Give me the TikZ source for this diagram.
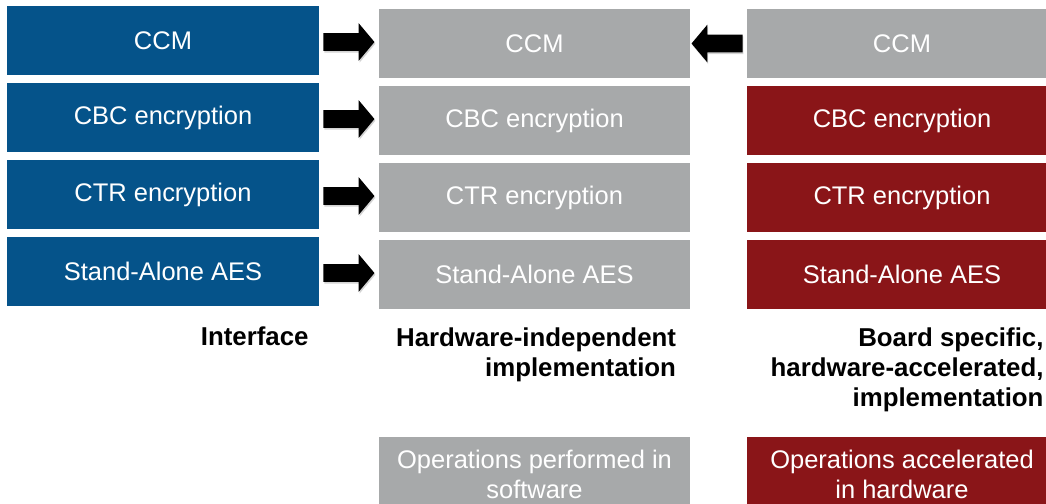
\documentclass[tikz,border=0pt]{standalone}
\usepackage{fontspec}
\setmainfont{Liberation Sans}
\usepackage{xcolor}
\usepackage{tikz}
\usetikzlibrary{shapes.geometric, shapes.arrows, arrows}
\usetikzlibrary{calc, shadows}
\usetikzlibrary{positioning}
\definecolor{ifblue}{RGB}{5,83,138}
\definecolor{swgray}{RGB}{167,169,170}
\definecolor{hwred}{RGB}{138,21,24}
\tikzstyle{block} = [rectangle, minimum width=6.22cm, minimum height=1.37cm, text=white, font=\fontsize{14.5}{17}\selectfont, align=center, inner sep=0pt]
\tikzstyle{iface} = [block, fill=ifblue]
\tikzstyle{swimpl} = [block, fill=swgray]
\tikzstyle{hwimpl} = [block, fill=hwred]
\tikzstyle{blockarrow} = [single arrow, fill=black, minimum height=1.02cm, inner sep=0.17cm, single arrow head extend=0.2cm, single arrow tip angle=100, single arrow head indent=0pt, drop shadow={opacity=0.35, shadow xshift=0.5pt, shadow yshift=-1pt}]
\tikzstyle{collabel} = [font=\fontsize{14.7}{17.1}\selectfont\bfseries, align=right, inner sep=0pt]

\begin{document}
\begin{tikzpicture}[node distance=1.54cm, auto]
        \useasboundingbox (0,0) rectangle (20.92,-10.06);

        % Interface
        \node (ifccm) [iface] at (3.26,-0.81) {CCM};
        \node (ifcbc) [iface, below of=ifccm] {CBC encryption};
        \node (ifctr) [iface, below of=ifcbc] {CTR encryption};
        \node (ifaes) [iface, below of=ifctr] {Stand-Alone AES};

        % Hardware-independent implementation
        \node (swccm) [swimpl, right of=ifccm, xshift=5.89cm, yshift=-0.06cm] {CCM};
        \node (swcbc) [swimpl, below of=swccm] {CBC encryption};
        \node (swctr) [swimpl, below of=swcbc] {CTR encryption};
        \node (swaes) [swimpl, below of=swctr] {Stand-Alone AES};

        % Board specific implementation
        \node (hwccm) [swimpl, right of=swccm, xshift=5.81cm] {CCM};
        \node (hwcbc) [hwimpl, below of=hwccm] {CBC encryption};
        \node (hwctr) [hwimpl, below of=hwcbc] {CTR encryption};
        \node (hwaes) [hwimpl, below of=hwctr] {Stand-Alone AES};

        % Arrows
        \node (arccm) [blockarrow, xshift=-0.07cm] at ($(ifccm.east)!0.5!(swccm.west)$) {};
        \node (arcbc) [blockarrow, xshift=-0.07cm] at ($(ifcbc.east)!0.5!(swcbc.west)$) {};
        \node (arctr) [blockarrow, xshift=-0.07cm] at ($(ifctr.east)!0.5!(swctr.west)$) {};
        \node (araes) [blockarrow, xshift=-0.07cm] at ($(ifaes.east)!0.5!(swaes.west)$) {};
        \node (arback) [blockarrow, shape border rotate=180, xshift=0.05cm] at ($(swccm.east)!0.5!(hwccm.west)$) {};

        % Column labels
        \node (lbif) [collabel, below left=0.4cm and 0.2cm of ifaes.south east] {Interface};
        \node (lbsw) [collabel, below left=0.36cm and 0.28cm of swaes.south east] {Hardware-independent\\implementation};
        \node (lbhw) [collabel, below left=0.36cm and 0.28cm of hwaes.south east] {Board specific,\\hardware-accelerated,\\implementation};

        % Legend
        \node (lgsw) [swimpl, minimum height=1.48cm, below of=swaes, yshift=-2.45cm] {Operations performed in\\software};
        \node (lghw) [hwimpl, minimum height=1.48cm, below of=hwaes, yshift=-2.45cm] {Operations accelerated\\in hardware};

    \end{tikzpicture}
\end{document}
